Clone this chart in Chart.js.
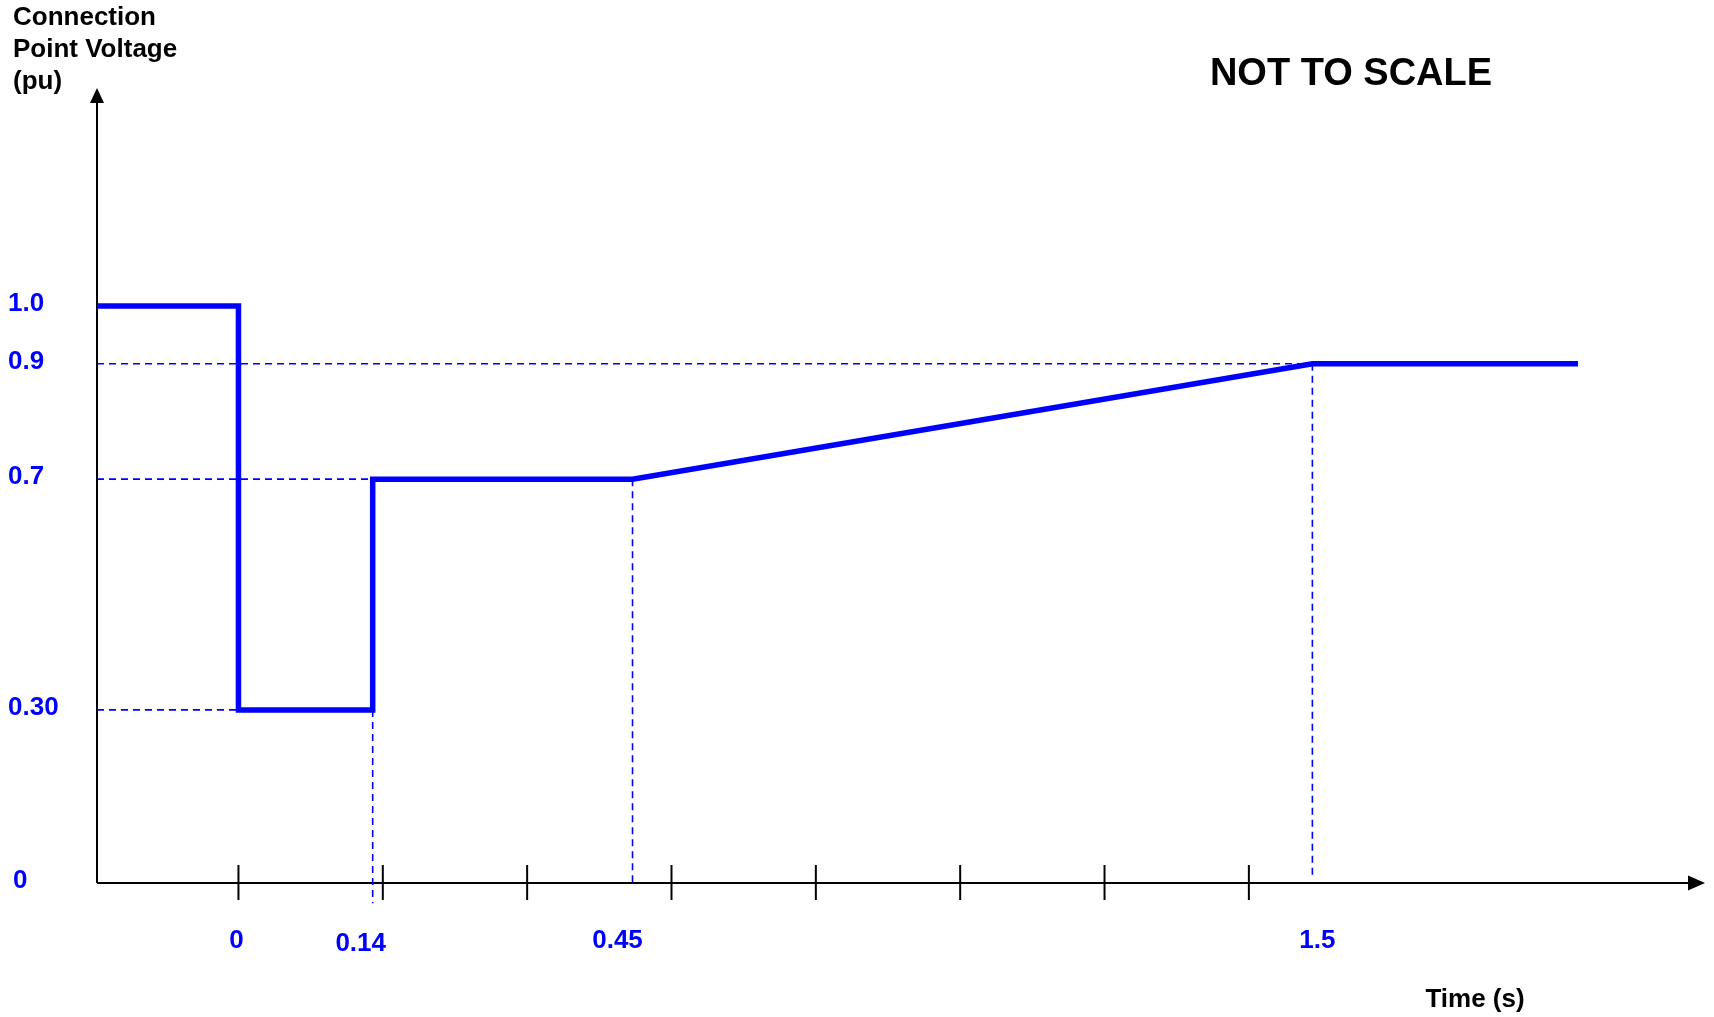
<!DOCTYPE html>
<html>
<head>
<meta charset="utf-8">
<script src="https://cdn.jsdelivr.net/npm/chart.js@4/dist/chart.umd.min.js"></script>
<style>
    html, body { margin: 0; padding: 0; background: #fff; }
    #wrap { width: 1714px; height: 1017px; }
</style>
</head>
<body>
<div id="wrap"><canvas id="voltageChart"></canvas></div>
<script>
// Voltage ride-through profile. The drawing is NOT TO SCALE, so the x values
// below are in tick units along the drawn time axis (the y axis sits at -0.98).
const profileX = [-0.98, 0, 0, 0.93, 0.93, 2.73, 7.44, 9.28];
const profileV = [1.0, 1.0, 0.3, 0.3, 0.7, 0.7, 0.9, 0.9];

// labelled times and where they fall on the drawn axis
const timeLabels = ['0', '0.14', '0.45', '1.5'];
const timeAxisPos = [0, 0.93, 2.73, 7.44];

// voltage tick labels
const voltLabels = ['1.0', '0.9', '0.7', '0.30', '0'];
const voltValues = [1.0, 0.9, 0.7, 0.3, 0];

// unlabelled tick marks on the time axis
const tickSlots = [0, 1, 2, 3, 4, 5, 6, 7];

const BLUE = '#0000ff';
const FONT = "'Liberation Sans', Arial, sans-serif";
const axisStart = -0.98;

// small nudges so the time labels sit where the original put them
const timeLabelNudge = [-2, -12, -15, 5];

// Dashed guide lines, built from the values above
function guide(points) {
    return {
        data: points,
        borderColor: BLUE,
        borderWidth: 1.6,
        borderDash: [7, 5],
        pointRadius: 0,
        fill: false,
        clip: false,
        order: 2
    };
}

const guides = [
    guide([{ x: axisStart, y: voltValues[1] }, { x: timeAxisPos[3], y: voltValues[1] }]),
    guide([{ x: axisStart, y: voltValues[2] }, { x: timeAxisPos[1], y: voltValues[2] }]),
    guide([{ x: axisStart, y: voltValues[3] }, { x: timeAxisPos[0], y: voltValues[3] }]),
    guide([{ x: timeAxisPos[1], y: voltValues[3] }, { x: timeAxisPos[1], y: -0.035 }]),
    guide([{ x: timeAxisPos[2], y: voltValues[2] }, { x: timeAxisPos[2], y: 0 }]),
    guide([{ x: timeAxisPos[3], y: voltValues[1] }, { x: timeAxisPos[3], y: 0.012 }])
];

// Axes, arrows, ticks and all the text
const sketchAxes = {
    id: 'sketchAxes',
    beforeDatasetsDraw(chart) {
        const ctx = chart.ctx;
        const xs = chart.scales.x;
        const ys = chart.scales.y;
        const x0 = xs.getPixelForValue(axisStart);
        const y0 = ys.getPixelForValue(0);
        const top = chart.chartArea.top;
        const right = chart.chartArea.right;

        ctx.save();
        ctx.strokeStyle = '#000';
        ctx.fillStyle = '#000';
        ctx.lineWidth = 2;

        // y axis + arrow
        ctx.beginPath();
        ctx.moveTo(x0, y0);
        ctx.lineTo(x0, top + 12);
        ctx.stroke();
        ctx.beginPath();
        ctx.moveTo(x0, top);
        ctx.lineTo(x0 - 7, top + 15);
        ctx.lineTo(x0 + 7, top + 15);
        ctx.closePath();
        ctx.fill();

        // x axis + arrow
        ctx.beginPath();
        ctx.moveTo(x0, y0);
        ctx.lineTo(right - 12, y0);
        ctx.stroke();
        ctx.beginPath();
        ctx.moveTo(right, y0);
        ctx.lineTo(right - 17, y0 - 7.5);
        ctx.lineTo(right - 17, y0 + 7.5);
        ctx.closePath();
        ctx.fill();

        // tick marks
        tickSlots.forEach(s => {
            const px = xs.getPixelForValue(s);
            ctx.beginPath();
            ctx.moveTo(px, y0 - 18);
            ctx.lineTo(px, y0 + 17);
            ctx.stroke();
        });
        ctx.restore();
    },
    afterDraw(chart) {
        const ctx = chart.ctx;
        const xs = chart.scales.x;
        const ys = chart.scales.y;

        ctx.save();
        ctx.textBaseline = 'middle';

        // voltage labels
        ctx.fillStyle = BLUE;
        ctx.font = 'bold 26px ' + FONT;
        ctx.textAlign = 'left';
        voltLabels.forEach((lbl, i) => {
            const dx = lbl === '0' ? 13 : 8;
            ctx.fillText(lbl, dx, ys.getPixelForValue(voltValues[i]) - 2);
        });

        // time labels
        ctx.textAlign = 'center';
        timeLabels.forEach((lbl, i) => {
            ctx.fillText(lbl, xs.getPixelForValue(timeAxisPos[i]) + timeLabelNudge[i], i === 1 ? 944 : 941);
        });

        // axis titles
        ctx.fillStyle = '#000';
        ctx.font = 'bold 26px ' + FONT;
        ctx.textAlign = 'left';
        ['Connection', 'Point Voltage', '(pu)'].forEach((line, i) => {
            ctx.fillText(line, 13, 18 + i * 32);
        });
        ctx.textAlign = 'center';
        ctx.fillText('Time (s)', 1475, 1000);

        ctx.font = 'bold 38px ' + FONT;
        ctx.fillText('NOT TO SCALE', 1351, 75);
        ctx.restore();
    }
};

const ctx = document.getElementById('voltageChart').getContext('2d');

const config = {
    type: 'line',
    data: {
        datasets: [{
            data: profileX.map((x, i) => ({ x: x, y: profileV[i] })),
            borderColor: BLUE,
            borderWidth: 5.5,
            borderJoinStyle: 'miter',
            borderCapStyle: 'butt',
            pointRadius: 0,
            tension: 0,
            fill: false,
            clip: false,
            order: 1
        }, ...guides]
    },
    options: {
        responsive: true,
        maintainAspectRatio: false,
        animation: false,
        layout: {
            padding: { left: 97, right: 9, top: 88, bottom: 134 }
        },
        plugins: {
            legend: { display: false },
            tooltip: { enabled: false }
        },
        scales: {
            x: { type: 'linear', min: -0.98, max: 10.16, display: false },
            y: { type: 'linear', min: 0, max: 1.378, display: false }
        }
    },
    plugins: [sketchAxes]
};

new Chart(ctx, config);
</script>
</body>
</html>
